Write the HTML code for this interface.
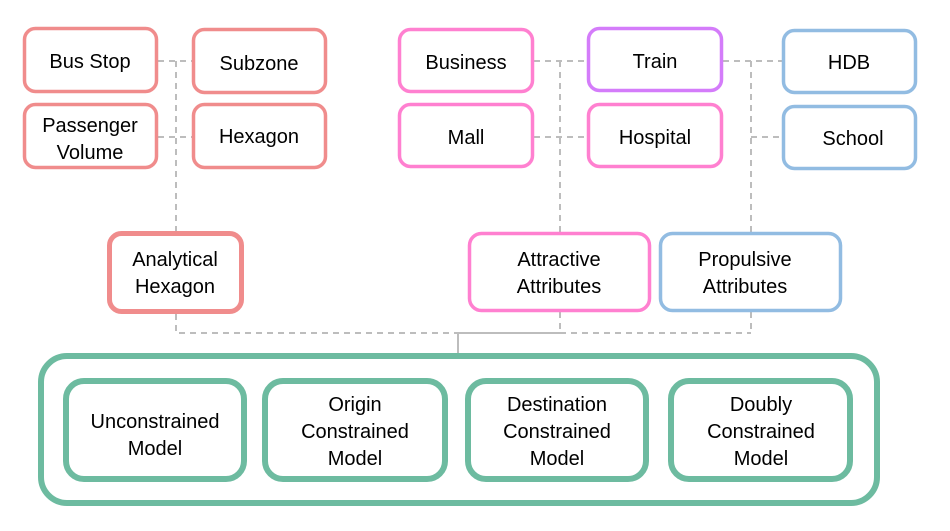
<!DOCTYPE html>
<html><head><meta charset="utf-8"><style>
html,body{margin:0;padding:0;background:#fff;}
svg{display:block;}
text{font-family:"Liberation Sans",sans-serif;font-size:20px;fill:#000;text-anchor:middle;}
</style></head><body>
<svg width="950" height="531" viewBox="0 0 950 531" xmlns="http://www.w3.org/2000/svg">
<g stroke="#bdbdbd" stroke-width="2" fill="none" stroke-dasharray="6,5">
<path d="M158 61H193M158 137H193M176 61V232M176 314V333H458"/>
<path d="M534 61H587M534 137H587M560 61V232M560 312V333M560 333H751"/>
<path d="M723 61H782M751 61V232M751 312V333M751 137H782"/>
</g>
<g stroke="#bdbdbd" stroke-width="2" fill="none">
<path d="M458 333H560M458 333V353"/>
</g>
<g fill="#fff" stroke-width="3.5">
<rect x="24.5" y="28.5" width="132" height="63" rx="11" stroke="#f08c8c"/>
<rect x="193.5" y="29.5" width="132" height="63" rx="11" stroke="#f08c8c"/>
<rect x="24.5" y="104.5" width="132" height="63" rx="11" stroke="#f08c8c"/>
<rect x="193.5" y="104.5" width="132" height="63" rx="11" stroke="#f08c8c"/>
<rect x="399.5" y="29.5" width="133" height="62" rx="11" stroke="#ff80d0"/>
<rect x="399.5" y="104.5" width="133" height="62" rx="11" stroke="#ff80d0"/>
<rect x="588.5" y="28.5" width="133" height="62" rx="11" stroke="#d47cfa"/>
<rect x="588.5" y="104.5" width="133" height="62" rx="11" stroke="#ff80d0"/>
<rect x="783.5" y="30.5" width="132" height="62" rx="11" stroke="#92bce2"/>
<rect x="783.5" y="106.5" width="132" height="62" rx="11" stroke="#92bce2"/>
<rect x="469.5" y="233.5" width="180" height="77" rx="12" stroke="#ff80d0"/>
<rect x="660.5" y="233.5" width="180" height="77" rx="12" stroke="#92bce2"/>
<rect x="109.5" y="233.5" width="132" height="78" rx="12" stroke="#f08c8c" stroke-width="5"/>
</g>
<g fill="#fff" stroke="#6dbba0" stroke-width="6">
<rect x="41" y="356" width="836" height="147" rx="26"/>
<rect x="66" y="381" width="178" height="98" rx="18"/>
<rect x="265" y="381" width="180" height="98" rx="18"/>
<rect x="468" y="381" width="178" height="98" rx="18"/>
<rect x="671" y="381" width="179" height="98" rx="18"/>
</g>
<text x="90" y="68">Bus Stop</text>
<text x="259" y="70">Subzone</text>
<text x="90" y="132">Passenger</text>
<text x="90" y="159">Volume</text>
<text x="259" y="143">Hexagon</text>
<text x="466" y="69">Business</text>
<text x="466" y="144">Mall</text>
<text x="655" y="68">Train</text>
<text x="655" y="144">Hospital</text>
<text x="849" y="69">HDB</text>
<text x="853" y="145">School</text>
<text x="175" y="266">Analytical</text>
<text x="175" y="293">Hexagon</text>
<text x="559" y="266">Attractive</text>
<text x="559" y="293">Attributes</text>
<text x="745" y="266">Propulsive</text>
<text x="745" y="293">Attributes</text>
<text x="155" y="428">Unconstrained</text>
<text x="155" y="455">Model</text>
<text x="355" y="411">Origin</text>
<text x="355" y="438">Constrained</text>
<text x="355" y="465">Model</text>
<text x="557" y="411">Destination</text>
<text x="557" y="438">Constrained</text>
<text x="557" y="465">Model</text>
<text x="761" y="411">Doubly</text>
<text x="761" y="438">Constrained</text>
<text x="761" y="465">Model</text>
</svg>
</body></html>
